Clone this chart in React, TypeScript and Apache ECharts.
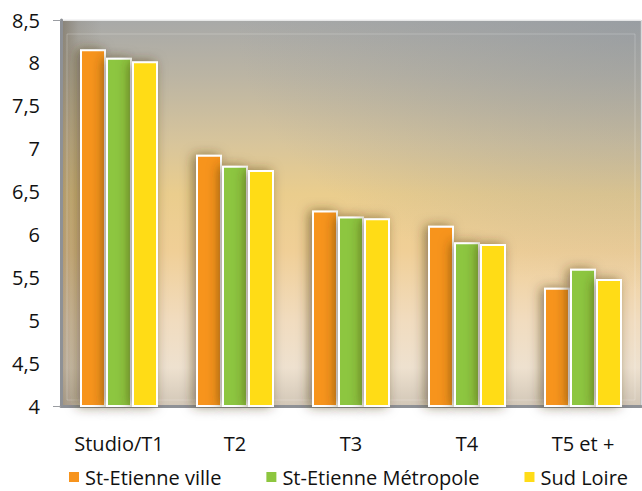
import React, { useEffect, useRef } from "react";
import * as echarts from "echarts";

const categories = ["Studio/T1", "T2", "T3", "T4", "T5 et +"];
const seriesNames = ["St-Etienne ville", "St-Etienne Métropole", "Sud Loire"];
const villeValues = [8.16, 6.93, 6.28, 6.1, 5.38];
const metropoleValues = [8.06, 6.8, 6.21, 5.91, 5.6];
const sudLoireValues = [8.02, 6.75, 6.19, 5.89, 5.48];
const colors = ["#f7941d", "#8dc63f", "#ffdc17"];
const yMin = 4;
const yMax = 8.5;
const yInterval = 0.5;

const FONT = "'Open Sans', 'Noto Sans', sans-serif";

export default function App() {
  const ref = useRef<HTMLDivElement>(null);

  useEffect(() => {
    if (!ref.current) return;
    const chart = echarts.init(ref.current, undefined, { renderer: "svg" });
    const gL = 61;
    const gT = 20;
    const gW = 580;
    const gH = 386;
    const dataSets = [villeValues, metropoleValues, sudLoireValues];
    chart.setOption({
      animation: false,
      backgroundColor: "#ffffff",
      textStyle: { fontFamily: FONT },
      graphic: [
        {
          type: "rect",
          z: -10,
          silent: true,
          shape: { x: gL, y: gT, width: gW, height: gH },
          style: {
            fill: new echarts.graphic.LinearGradient(0, 0, 0, 1, [
              { offset: 0, color: "#a8a9a8" },
              { offset: 0.15, color: "#bcb5a3" },
              { offset: 0.32, color: "#d8c59b" },
              { offset: 0.45, color: "#eacd8d" },
              { offset: 0.6, color: "#f0cf97" },
              { offset: 0.78, color: "#f1dcbf" },
              { offset: 0.9, color: "#eee1cf" },
              { offset: 1, color: "#d2c7b7" },
            ]),
          },
        },
        {
          type: "rect",
          z: -9,
          silent: true,
          shape: { x: gL, y: gT, width: gW, height: gH },
          style: {
            fill: new echarts.graphic.RadialGradient(1, 0, 0.7, [
              { offset: 0, color: "rgba(140,148,158,0.55)" },
              { offset: 1, color: "rgba(140,148,158,0)" },
            ]),
          },
        },
        {
          type: "rect",
          z: -9,
          silent: true,
          shape: { x: gL, y: gT, width: gW, height: gH },
          style: {
            fill: new echarts.graphic.LinearGradient(0, 0, 1, 0, [
              { offset: 0, color: "rgba(95,80,55,0.45)" },
              { offset: 0.03, color: "rgba(95,80,55,0.12)" },
              { offset: 0.07, color: "rgba(95,80,55,0)" },
              { offset: 1, color: "rgba(95,80,55,0)" },
            ]),
          },
        },
        {
          type: "rect",
          z: -8,
          silent: true,
          shape: { x: gL + 6, y: gT + 14, width: gW - 12, height: gH - 20 },
          style: { fill: "none", stroke: "rgba(255,255,255,0.22)", lineWidth: 1 },
        },
      ],
      grid: {
        left: gL,
        top: gT,
        width: gW,
        height: gH,
        show: true,
        backgroundColor: "transparent",
        borderColor: "#b3b5b8",
        borderWidth: 1,
      },
      legend: {
        left: 62,
        top: 462,
        itemWidth: 12,
        itemHeight: 12,
        itemGap: 43,
        icon: "rect",
        textStyle: { fontSize: 20, color: "#111111", fontFamily: FONT },
        data: seriesNames,
      },
      xAxis: {
        type: "category",
        data: categories,
        axisLine: { lineStyle: { color: "#8e9196", width: 3 } },
        axisTick: { show: false },
        axisLabel: {
          interval: 0,
          hideOverlap: false,
          margin: 27,
          fontSize: 20,
          color: "#111111",
          fontFamily: FONT,
        },
        splitLine: { show: false },
      },
      yAxis: {
        type: "value",
        min: yMin,
        max: yMax,
        interval: yInterval,
        axisLine: { show: true, lineStyle: { color: "#8e9196", width: 3 } },
        axisTick: {
          show: true,
          length: 8,
          customValues: [yMin, yMax],
          lineStyle: { color: "#9a9da2", width: 1 },
        },
        axisLabel: {
          margin: 21,
          fontSize: 20,
          color: "#111111",
          fontFamily: FONT,
          formatter: (v: number) => String(v).replace(".", ","),
        },
        splitLine: {
          show: true,
          lineStyle: { color: "rgba(255,255,255,0.95)", width: 1.5 },
        },
      },
      series: seriesNames.map((name, i) => ({
        name,
        type: "bar",
        data: dataSets[i],
        barWidth: 26,
        barGap: "0%",
        itemStyle: {
          color: colors[i],
          borderColor: "#ffffff",
          borderWidth: 2,
          shadowColor: "rgba(60,45,25,0.55)",
          shadowBlur: 12,
          shadowOffsetX: -3,
        },
      })),
    });
    return () => chart.dispose();
  }, []);

  return (
    <div
      ref={ref}
      style={{ position: "fixed", left: 0, top: 0, width: 642, height: 491 }}
    />
  );
}
